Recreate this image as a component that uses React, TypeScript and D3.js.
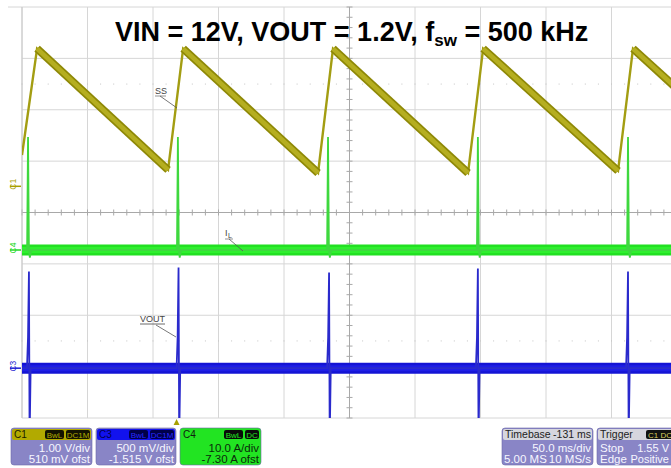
import React from 'react';
import * as d3 from 'd3';

// scope channel settings (from the info boxes)
const ch1 = { name: 'C1', vPerDiv: 1.0, offset: 0.51, scaleText: '1.00 V/div', ofstText: '510 mV ofst' };
const ch3 = { name: 'C3', vPerDiv: 0.5, offset: -1.515, scaleText: '500 mV/div', ofstText: '-1.515 V ofst' };
const ch4 = { name: 'C4', vPerDiv: 10.0, offset: -7.3, scaleText: '10.0 A/div', ofstText: '-7.30 A ofst' };
const msPerDiv = 50;

// SS (C1), volts vs ms
const ssTime = [0, 11.5, 111.5, 123, 226, 237.4, 340.5, 352, 455, 466.4, 500];
const ssVolts = [0.61, 2.68, 0.32, 2.68, 0.26, 2.68, 0.26, 2.68, 0.3, 2.68, 1.9];

// IL (C4), amps vs ms
const ilTime = [
  0, 3.9, 4.6, 5.3, 6.0, 7.0,
  118.3, 119, 119.7, 120.4, 121.4,
  232.9, 233.6, 234.3, 235.0, 236.0,
  347.3, 348, 348.7, 349.4, 350.4,
  461.9, 462.6, 463.3, 464.0, 465.0,
  500,
];
const ilAmps = [
  0, 0, 22, 0, -1.5, 0,
  0, 22, 0, -1.5, 0,
  0, 22, 0, -1.5, 0,
  0, 22, 0, -1.5, 0,
  0, 22, 0, -1.5, 0,
  0,
];
const ilBase = 0;

// VOUT (C3), volts vs ms
const voTime = [
  0, 3.8, 4.6, 5.3, 5.8, 6.6,
  118.0, 118.8, 119.5, 120.0, 120.8,
  232.9, 233.7, 234.4, 234.9, 235.7,
  346.5, 347.3, 348, 348.5, 349.3,
  461.1, 461.9, 462.6, 463.1, 463.9,
  500,
];
const voVolts = [
  0, 0, 0.3, 0.94, -0.7, 0,
  0, 0.3, 0.98, -0.7, 0,
  0, 0.3, 0.93, -0.7, 0,
  0, 0.3, 0.97, -0.7, 0,
  0, 0.3, 0.94, -0.7, 0,
  0,
];
const voBase = 0;

const W = 671;
const H = 468;
const plot = { left: 22, top: 7, right: 677, bottom: 418 };

const x = d3.scaleLinear().domain([0, msPerDiv * 10]).range([plot.left, plot.right]);
const yDiv = d3.scaleLinear().domain([4, -4]).range([plot.top, plot.bottom]);
const chY = (c: { vPerDiv: number; offset: number }) => (v: number) => yDiv((v + c.offset) / c.vPerDiv);
const y1 = chY(ch1);
const y3 = chY(ch3);
const y4 = chY(ch4);

const font = '"Liberation Sans", Arial, sans-serif';

function zip(t: number[], v: number[]): [number, number][] {
  return t.map((d, i) => [d, v[i]]);
}

const InfoBox = ({ x0, w, head, headFill, headText, boxFill, boxText, tags, lines, bodyFill, bodyText }: any) => {
  const y0 = 428;
  const h = 37;
  let bx = x0 + w - 2;
  const tagRects: any[] = [];
  [...tags].reverse().forEach((t: string) => {
    const tw = t.length * 5 + 4;
    bx -= tw;
    tagRects.push(
      <g key={t}>
        <rect x={bx} y={y0 + 2} width={tw} height={9} rx={2} fill={boxFill} />
        <text x={bx + tw / 2} y={y0 + 9.5} fontSize={8} textAnchor="middle" fill={boxText} fontFamily={font}>{t}</text>
      </g>
    );
    bx -= 2;
  });
  return (
    <g>
      <rect x={x0} y={y0} width={w} height={h} rx={3} fill={bodyFill} stroke="#6c68a8" strokeWidth={0.6} />
      <rect x={x0 + 1} y={y0 + 1} width={w - 2} height={11} rx={2} fill={headFill} />
      <text x={x0 + 3} y={y0 + 10} fontSize={10} fill={headText} fontFamily={font}>{head}</text>
      {tagRects}
      <text x={x0 + w - 2} y={y0 + 23.5} fontSize={11.5} textAnchor="end" fill={bodyText} fontFamily={font}>{lines[0]}</text>
      <text x={x0 + w - 2} y={y0 + 35} fontSize={11.5} textAnchor="end" fill={bodyText} fontFamily={font}>{lines[1]}</text>
    </g>
  );
};

export default function App() {
  const gridX = d3.range(11).map((i) => x(i * msPerDiv));
  const gridY = d3.range(9).map((i) => yDiv(4 - i));
  const cx = x(msPerDiv * 5);
  const cy = yDiv(0);
  const tickX = d3.range(51).map((i) => x((i * msPerDiv) / 5));
  const tickY = d3.range(41).map((i) => yDiv(4 - i / 5));
  const dotX = d3.range(51).map((i) => x((i * msPerDiv) / 5));

  const ssLine = d3.line<[number, number]>().x((d) => x(d[0])).y((d) => y1(d[1]));
  const ilLine = d3.line<[number, number]>().x((d) => x(d[0])).y((d) => y4(d[1]));
  const voLine = d3.line<[number, number]>().x((d) => x(d[0])).y((d) => y3(d[1]));

  const ss = zip(ssTime, ssVolts);
  const falling = ss.slice(0, -1).map((d, i) => [d, ss[i + 1]] as [number, number][]).filter((s) => s[1][1] < s[0][1]);

  const purple = '#8985c6';

  return (
    <div style={{ position: 'absolute', left: 0, top: 0 }}>
      <svg width={W} height={H} viewBox={`0 0 ${W} ${H}`} style={{ display: 'block', background: '#fff' }}>
        <defs>
          <clipPath id="plotClip">
            <rect x={plot.left} y={plot.top} width={plot.right - plot.left} height={plot.bottom - plot.top} />
          </clipPath>
        </defs>

        {/* grid */}
        {gridX.map((gx, i) => (
          <line key={'gx' + i} x1={gx} x2={gx} y1={plot.top} y2={plot.bottom} stroke="#d6d6d6" strokeWidth={1} />
        ))}
        {gridY.map((gy, i) => (
          <line key={'gy' + i} x1={i === 0 ? 8 : plot.left} x2={W} y1={gy} y2={gy} stroke="#d6d6d6" strokeWidth={1} />
        ))}
        {[yDiv(2.5), yDiv(-2.5)].map((dy, j) =>
          dotX.map((dx, i) => <rect key={'d' + j + '-' + i} x={dx - 0.5} y={dy - 0.5} width={1} height={1} fill="#c4c4c4" />)
        )}
        <line x1={plot.left} x2={W} y1={cy} y2={cy} stroke="#a8a8a8" strokeWidth={1} />
        <line x1={cx} x2={cx} y1={plot.top} y2={plot.bottom} stroke="#a8a8a8" strokeWidth={1} />
        {tickX.map((tx, i) => (
          <line key={'tx' + i} x1={tx} x2={tx} y1={cy - 3} y2={cy + 3} stroke="#a8a8a8" strokeWidth={1} />
        ))}
        {tickY.map((ty, i) => (
          <line key={'ty' + i} x1={cx - 3} x2={cx + 3} y1={ty} y2={ty} stroke="#a8a8a8" strokeWidth={1} />
        ))}
        <line x1={plot.left} x2={plot.left} y1={plot.top} y2={plot.bottom} stroke="#c8c8c8" strokeWidth={1} />

        {/* title */}
        <text x={115} y={41} fontFamily={font} fontWeight="bold" fontSize={27} fill="#000">
          VIN = 12V, VOUT = 1.2V, f
          <tspan fontSize={17} dy={5}>sw</tspan>
          <tspan dy={-5}> = 500 kHz</tspan>
        </text>

        <g clipPath="url(#plotClip)">
          {/* IL band + spikes */}
          <line x1={x(0)} x2={x(500)} y1={y4(ilBase)} y2={y4(ilBase)} stroke="#22e022" strokeWidth={11} />
          <line x1={x(0)} x2={x(500)} y1={y4(ilBase)} y2={y4(ilBase)} stroke="#2ef02e" strokeWidth={6} />
          <path d={ilLine(zip(ilTime, ilAmps)) || ''} fill="none" stroke="#3ed83e" strokeWidth={1.8} />

          {/* VOUT band + spikes */}
          <line x1={x(0)} x2={x(500)} y1={y3(voBase)} y2={y3(voBase)} stroke="#1414d4" strokeWidth={11} />
          <line x1={x(0)} x2={x(500)} y1={y3(voBase)} y2={y3(voBase)} stroke="#1e1ee6" strokeWidth={6} />
          <path d={voLine(zip(voTime, voVolts)) || ''} fill="none" stroke="#2a2acc" strokeWidth={1.8} />

          {/* SS */}
          <path d={ssLine(ss) || ''} fill="none" stroke="#a39d12" strokeWidth={2.4} />
          {falling.map((s, i) => (
            <g key={'f' + i}>
              <path d={ssLine(s) || ''} fill="none" stroke="#8e8806" strokeWidth={8} strokeLinecap="butt" />
              <path d={ssLine(s) || ''} fill="none" stroke="#b5ae20" strokeWidth={4.6} strokeLinecap="butt" />
            </g>
          ))}
        </g>

        {/* annotations */}
        <g fontFamily={font} fontSize={9} fill="#444">
          <text x={155} y={94}>SS</text>
          <line x1={155} x2={166} y1={96} y2={96} stroke="#666" strokeWidth={0.7} />
          <line x1={160} x2={177} y1={96} y2={108} stroke="#555" strokeWidth={0.8} />
          <text x={225} y={236}>I</text>
          <text x={228} y={238} fontSize={7}>L</text>
          <line x1={225} x2={233} y1={239} y2={239} stroke="#666" strokeWidth={0.7} />
          <line x1={229} x2={243} y1={239} y2={251} stroke="#555" strokeWidth={0.8} />
          <text x={140} y={322}>VOUT</text>
          <line x1={140} x2={165} y1={324} y2={324} stroke="#444" strokeWidth={0.8} />
          <line x1={156} x2={176} y1={325} y2={337} stroke="#555" strokeWidth={0.8} />
        </g>

        {/* channel markers */}
        {[
          { c: ch1, y: y1(0), col: '#a8a000' },
          { c: ch4, y: y4(0), col: '#22d822' },
          { c: ch3, y: y3(0), col: '#1a1ad0' },
        ].map((m) => (
          <g key={m.c.name}>
            <text
              transform={`translate(16,${m.y - 2}) rotate(-90)`}
              fontSize={8.5}
              fontFamily={font}
              fill={m.col}
              textAnchor="middle"
            >
              {m.c.name}
            </text>
            <line x1={10} x2={21} y1={m.y} y2={m.y} stroke={m.col} strokeWidth={1.5} />
          </g>
        ))}

        {/* trigger marker */}
        <polygon points={`${x(118) - 3},425 ${x(118) + 3},425 ${x(118)},419`} fill="#a8a000" />

        {/* info boxes */}
        <InfoBox x0={11} w={81} head="C1" headFill="#b2aa00" headText="#1a1a00" boxFill="#141400" boxText="#b2aa00"
          tags={['BwL', 'DC1M']} lines={[ch1.scaleText, ch1.ofstText]} bodyFill={purple} bodyText="#f6f6ff" />
        <InfoBox x0={96} w={80} head="C3" headFill="#1212ee" headText="#000050" boxFill="#00004a" boxText="#2a2aff"
          tags={['BwL', 'DC1M']} lines={[ch3.scaleText, ch3.ofstText]} bodyFill={purple} bodyText="#f6f6ff" />
        <InfoBox x0={180} w={81} head="C4" headFill="#22e422" headText="#102010" boxFill="#0a0a0a" boxText="#22e422"
          tags={['BwL', 'DC']} lines={[ch4.scaleText, ch4.ofstText]} bodyFill="#22e422" bodyText="#0a2a0a" />

        {/* timebase */}
        <g fontFamily={font}>
          <rect x={502} y={428} width={91} height={37} rx={3} fill={purple} stroke="#6c68a8" strokeWidth={0.6} />
          <rect x={503} y={429} width={89} height={11} rx={2} fill="#d6d6de" />
          <text x={505} y={438} fontSize={10.5} fill="#222">Timebase</text>
          <text x={591} y={438} fontSize={10.5} fill="#222" textAnchor="end">-131 ms</text>
          <text x={591} y={451.5} fontSize={11.5} fill="#f6f6ff" textAnchor="end">{`${msPerDiv.toFixed(1)} ms/div`}</text>
          <text x={504} y={463} fontSize={11.5} fill="#f6f6ff">5.00 MS</text>
          <text x={591} y={463} fontSize={11.5} fill="#f6f6ff" textAnchor="end">10 MS/s</text>

          <rect x={597} y={428} width={95} height={37} rx={3} fill={purple} stroke="#6c68a8" strokeWidth={0.6} />
          <rect x={598} y={429} width={93} height={11} rx={2} fill="#d6d6de" />
          <text x={600} y={438} fontSize={10.5} fill="#222">Trigger</text>
          <rect x={646} y={430} width={30} height={9} rx={2} fill="#111" />
          <text x={648} y={437.5} fontSize={8} fill="#d8d060">C1 DC</text>
          <text x={600} y={451.5} fontSize={11.5} fill="#f6f6ff">Stop</text>
          <text x={669} y={451.5} fontSize={11} fill="#f6f6ff" textAnchor="end">1.55 V</text>
          <text x={600} y={463} fontSize={11.5} fill="#f6f6ff">Edge</text>
          <text x={669} y={463} fontSize={11} fill="#f6f6ff" textAnchor="end">Positive</text>
        </g>
      </svg>
    </div>
  );
}
